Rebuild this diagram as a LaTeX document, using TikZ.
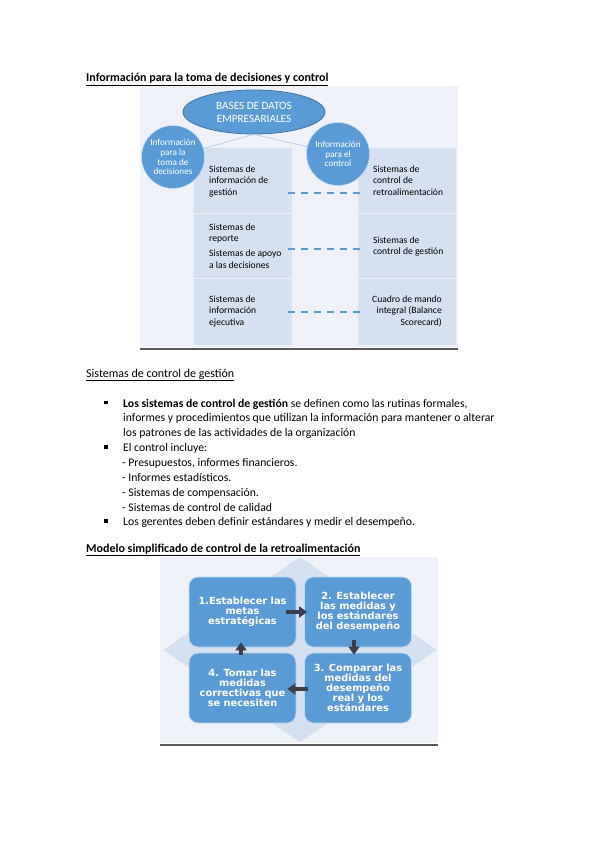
\documentclass[tikz,border=0pt]{standalone}
\usepackage{fontspec}
\setmainfont{Carlito}
\newfontfamily\cardfont{DejaVu Sans}
\usepackage{tikz}
\usetikzlibrary{arrows.meta,positioning,shapes.geometric}
\definecolor{SABlue}{HTML}{5B9BD5}
\definecolor{SADark}{HTML}{41719C}
\definecolor{SACol}{HTML}{D5E0F1}
\definecolor{SABack}{HTML}{EEF2F8}
\definecolor{SAArrow}{HTML}{3A3F4B}
\definecolor{SARule}{HTML}{5A5A5A}

\begin{document}
\begin{tikzpicture}[x=1pt,y=-1pt,
        heading/.style={anchor=base west,inner sep=0pt,
                        font=\fontsize{12}{14}\selectfont},
        body/.style={anchor=base west,inner sep=0pt,
                     font=\fontsize{11.7}{14}\selectfont},
        bulletsq/.style={rectangle,fill=black,minimum size=3.2pt,inner sep=0pt},
        colbox/.style={fill=SACol,draw=white!55!SACol,line width=0.6pt},
        coltext/.style={anchor=north west,inner sep=0pt,align=left,
                        font=\fontsize{9.6}{11.5}\selectfont},
        bubble/.style={circle,fill=SABlue,draw=white!65!SABlue,line width=0.6pt,
                       text=white,minimum size=63pt,inner sep=0pt,align=center,
                       font=\fontsize{9.2}{9.8}\selectfont},
        link/.style={SABlue,dash pattern=on 7pt off 6pt,line width=2.2pt},
        spoke/.style={SABlue!55,line width=0.6pt},
        stepcard/.style={rounded corners=9pt,fill=SABlue,draw=white!60!SABlue,
                         line width=0.8pt,minimum width=107pt,minimum height=70pt,
                         text=white,align=center,inner sep=0pt,
                         font=\cardfont\bfseries\fontsize{9.8}{10.1}\selectfont},
        flow/.style={SAArrow,line width=4.5pt,-{Triangle[width=11pt,length=8pt]}}]
  \useasboundingbox (0,0) rectangle (599,848);

  % --- first section: information for decisions and control
  \node[heading] (head1) at (86,82)
    {\underline{\textbf{Información para la toma de decisiones y control}}};
  \fill[SABack] (140,86) rectangle (458,347);
  \draw[SARule,line width=1.5pt] (140,349) -- (458,349);
  \foreach \top/\bot in {147/213,213/278,278/345}{
    \draw[colbox] (193,\top) rectangle (292,\bot);
    \draw[colbox] (357,\top) rectangle (456,\bot);
  }
  \node[ellipse,fill=SABlue,draw=SADark,line width=0.8pt,minimum width=142pt,
        minimum height=44pt,inner sep=0pt,text=white,align=center,
        font=\fontsize{11.2}{13}\selectfont] (bases) at (254,112)
    {BASES DE DATOS\\EMPRESARIALES};
  \node[bubble] (dec) at (173,157) {Información\\para la\\toma de\\decisiones};
  \node[bubble] (ctl) at (338,154) {Información\\para el\\control};
  \draw[spoke] (bases.south) -- (dec);
  \draw[spoke] (bases.south) -- (ctl);

  \node[coltext] (sig) at (209,165.5) {Sistemas de\\información de\\gestión};
  \node[coltext] (rep) at (209,223.5) {Sistemas de\\reporte};
  \node[coltext] (apoyo) at (209,250) {Sistemas de apoyo\\a las decisiones};
  \node[coltext] (eje) at (209,295.5) {Sistemas de\\información\\ejecutiva};
  \node[coltext] (retro) at (373,165.5) {Sistemas de\\control de\\retroalimentación};
  \node[coltext] (cges) at (373,236.5) {Sistemas de\\control de gestión};
  \node[coltext,anchor=north east,align=right] (cmi) at (442,295.5)
    {Cuadro de mando\\integral (Balance\\Scorecard)};

  \coordinate (l1) at (288,193); \coordinate (r1) at (364,193);
  \coordinate (l2) at (288,249); \coordinate (r2) at (364,249);
  \coordinate (l3) at (288,312); \coordinate (r3) at (364,312);
  \draw[link] (l1) -- (r1);
  \draw[link] (l2) -- (r2);
  \draw[link] (l3) -- (r3);

  % --- second section: management control systems
  \node[heading] (head2) at (86,377) {\underline{Sistemas de control de gestión}};
  \node[bulletsq] (b1) at (106,402.5) {};
  \node[body] (t1) at (123,407)
    {\textbf{Los sistemas de control de gestión} se definen como las rutinas formales,};
  \node[body] (t2) at (123,421.5)
    {informes y procedimientos que utilizan la información para mantener o alterar};
  \node[body] (t3) at (123,436) {los patrones de las actividades de la organización};
  \node[bulletsq] (b2) at (106,447) {};
  \node[body] (t4) at (123,451.5) {El control incluye:};
  \node[body] (t5) at (122,466.5) {- Presupuestos, informes financieros.};
  \node[body] (t6) at (122,481) {- Informes estadísticos.};
  \node[body] (t7) at (122,496) {- Sistemas de compensación.};
  \node[body] (t8) at (122,511) {- Sistemas de control de calidad};
  \node[bulletsq] (b3) at (106,521) {};
  \node[body] (t9) at (123,525.5)
    {Los gerentes deben definir estándares y medir el desempeño.};

  % --- third section: feedback control model
  \node[heading] (head3) at (86,552)
    {\underline{\textbf{Modelo simplificado de control de la retroalimentación}}};
  \fill[SABack] (160,557) rectangle (438,743);
  \draw[SARule,line width=1.5pt] (160,745) -- (438,745);
  \fill[SACol] (300,557) -- (437,650) -- (300,742) -- (163,650) -- cycle;
  \node[stepcard] (s1) at (242.5,612) {1.Establecer las\\metas\\estratégicas};
  \node[stepcard] (s2) at (358,612)
    {2. Establecer\\las medidas y\\los estándares\\del desempeño};
  \node[stepcard] (s3) at (358,688)
    {3. Comparar las\\medidas del\\desempeño\\real y los\\estándares};
  \node[stepcard] (s4) at (242.5,688)
    {4. Tomar las\\medidas\\correctivas que\\se necesiten};
  \draw[flow] ([xshift=-10pt]s1.east) -- ([xshift=3pt]s2.west);
  \draw[flow] ([xshift=-4pt,yshift=7pt]s2.south) -- ([xshift=-4pt,yshift=-2pt]s3.north);
  \draw[flow] ([xshift=4pt,yshift=-1pt]s3.west) -- ([xshift=-9pt,yshift=-1pt]s4.east);
  \draw[flow] ([xshift=-1.5pt,yshift=-2pt]s4.north) -- ([xshift=-1.5pt,yshift=5pt]s1.south);
\end{tikzpicture}
\end{document}
